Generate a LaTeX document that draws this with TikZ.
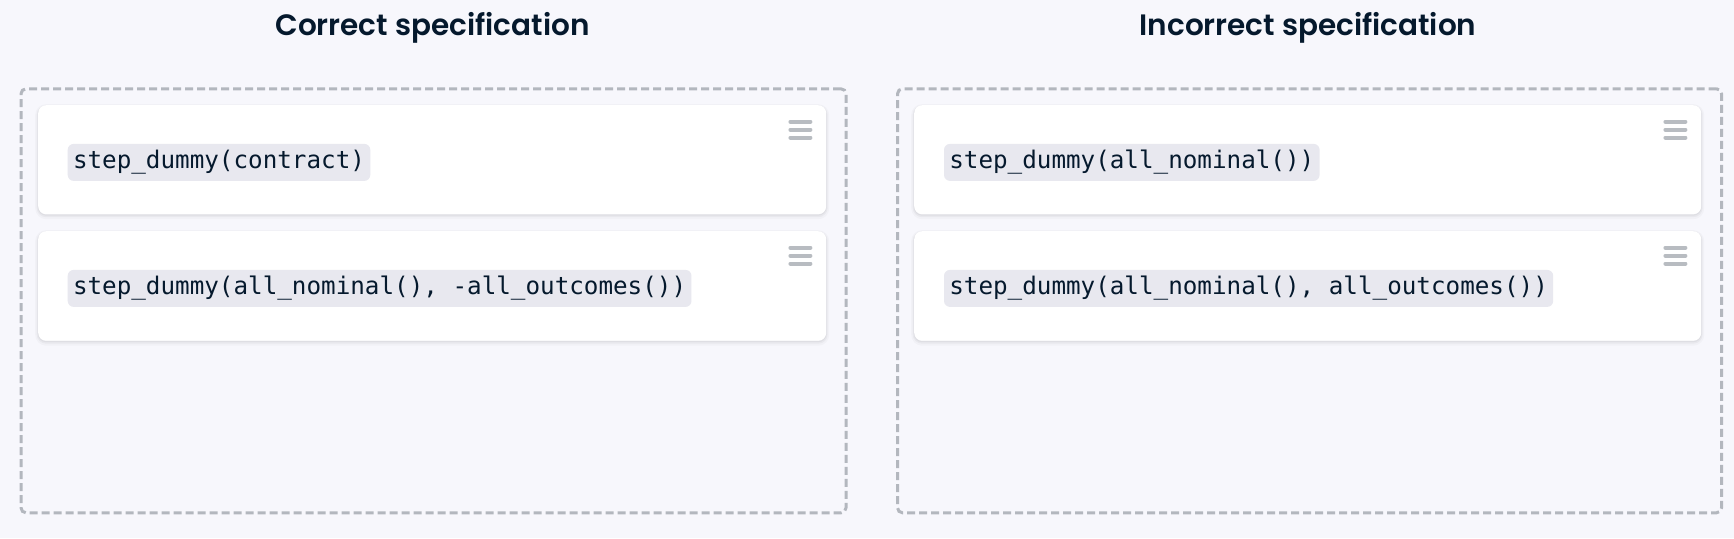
\documentclass[tikz,border=0pt]{standalone}
\usepackage{fontspec}
\newfontfamily\titlefont{Poppins SemiBold}
\newfontfamily\codefont{DejaVu Sans Mono}
\usetikzlibrary{calc}
\definecolor{bg}{HTML}{F7F7FC}
\definecolor{ink}{HTML}{05192D}
\definecolor{chipbg}{HTML}{E8E8EF}
\definecolor{dashgray}{HTML}{B3B7BE}
\definecolor{burgergray}{HTML}{B8BCC1}
\tikzset{
  paneltitle/.style={font=\titlefont\fontsize{29.5}{36}\selectfont, text=ink, anchor=base, inner sep=0},
  panel/.style={draw=dashgray, line width=3pt, dash pattern=on 8pt off 4pt, rounded corners=5pt,
    anchor=north west, inner sep=0},
  card/.style={fill=white, rounded corners=8pt, anchor=north west, inner sep=0,
    preaction={draw=black, opacity=0.025, line width=6pt, transform canvas={yshift=-2pt}},
    preaction={draw=black, opacity=0.035, line width=3pt, transform canvas={yshift=-1.5pt}},
    preaction={draw=black, opacity=0.04, line width=1pt, transform canvas={yshift=-1pt}}},
  chip/.style={fill=chipbg, rounded corners=6pt, anchor=west, text=ink,
    font=\codefont\fontsize{24.25}{28}\selectfont, inner xsep=5.3pt, inner ysep=0pt,
    text height=18pt, text depth=5pt, minimum height=37pt},
  burgerbar/.style={draw=burgergray, line width=4pt, line cap=round}
}
\newcommand\burger[1]{%
  \foreach \dy in {16.7,24.6,32.5}
    \draw[burgerbar] ($(#1.north east)+(-36,\dy)$) -- ++(20,0);%
}
\begin{document}
\begin{tikzpicture}[x=1pt,y=-1pt]
\fill[bg] (0,0) rectangle (1734,538);
\useasboundingbox (0,0) rectangle (1734,538);

% titles
\node[paneltitle] (tL) at (432.5,35.5) {Correct specification};
\node[paneltitle] (tR) at (1308,35.5) {Incorrect specification};

% dashed panels
\node[panel, minimum width=825pt, minimum height=424pt] (pL) at (19.5,87.3) {};
\node[panel, minimum width=824pt, minimum height=424pt] (pR) at (896,87.3) {};

% cards, left
\node[card, minimum width=788pt, minimum height=109pt] (cL1) at (38,105) {};
\node[card, minimum width=788pt, minimum height=109.5pt] (cL2) at (38,231) {};
% cards, right
\node[card, minimum width=787pt, minimum height=109pt] (cR1) at (914,105) {};
\node[card, minimum width=787pt, minimum height=109.5pt] (cR2) at (914,231) {};

% code chips
\node[chip] (kL1) at (67.5,162.4) {step\_dummy(contract)};
\node[chip] (kL2) at (67.5,288.4) {step\_dummy(all\_nominal(), -all\_outcomes())};
\node[chip] (kR1) at (943.8,162.4) {step\_dummy(all\_nominal())};
\node[chip] (kR2) at (943.8,288.4) {step\_dummy(all\_nominal(), all\_outcomes())};

% drag handles
\burger{cL1}
\burger{cL2}
\burger{cR1}
\burger{cR2}
\end{tikzpicture}
\end{document}
